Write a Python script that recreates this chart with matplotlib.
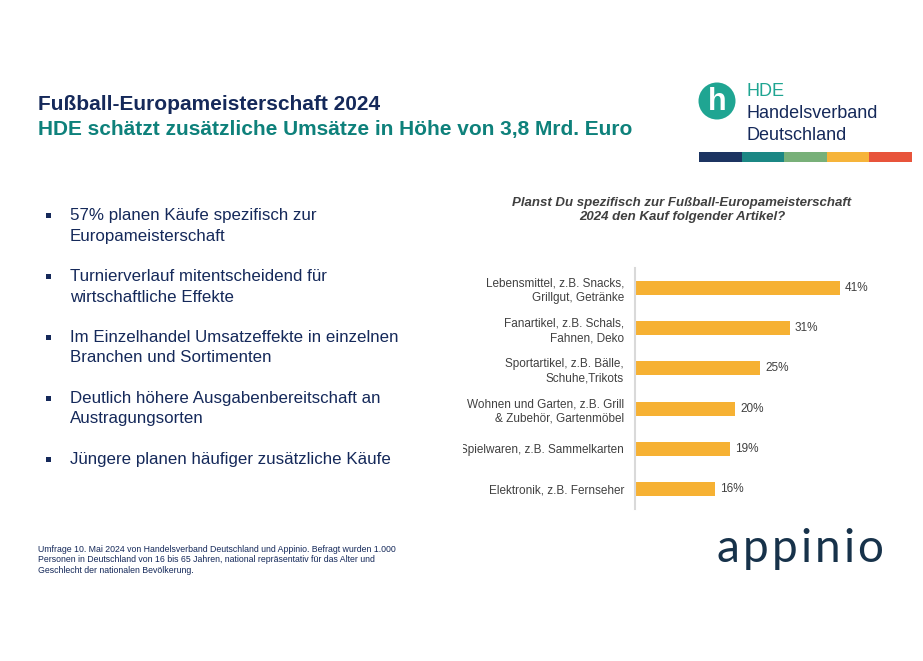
import matplotlib.pyplot as plt
from matplotlib.patches import Circle, Rectangle
from matplotlib.transforms import Bbox, TransformedBbox, IdentityTransform

plt.rcParams['font.family'] = ['Liberation Sans', 'DejaVu Sans']

# ---- Daten ----
kategorien = ['Lebensmittel, z.B. Snacks,\nGrillgut, Getränke',
              'Fanartikel, z.B. Schals,\nFahnen, Deko',
              'Sportartikel, z.B. Bälle,\nSchuhe,Trikots',
              'Wohnen und Garten, z.B. Grill\n& Zubehör, Gartenmöbel',
              'Spielwaren, z.B. Sammelkarten',
              'Elektronik, z.B. Fernseher']
werte = [41, 31, 25, 20, 19, 16]
stichpunkte = ['57% planen Käufe spezifisch zur\nEuropameisterschaft',
               'Turnierverlauf mitentscheidend für\nwirtschaftliche Effekte',
               'Im Einzelhandel Umsatzeffekte in einzelnen\nBranchen und Sortimenten',
               'Deutlich höhere Ausgabenbereitschaft an\nAustragungsorten',
               'Jüngere planen häufiger zusätzliche Käufe']
logo_farben = ['#1c3461', '#1b8784', '#78b079', '#f6b43a', '#e8543b']

W, H = 923, 661
navy = '#15295a'
teal = '#0e817b'
grau = '#404040'
balken = '#f6b133'

fig = plt.figure(figsize=(W / 100, H / 100), dpi=100)
renderer = fig.canvas.get_renderer()

# Overlay in Pixelkoordinaten fuer Texte und Logos
ov = fig.add_axes([0, 0, 1, 1])
ov.set_xlim(0, W)
ov.set_ylim(H, 0)
ov.axis('off')

ov.text(38, 104, 'Fußball-Europameisterschaft 2024', fontsize=15,
        fontweight='bold', color=navy, va='center')
ov.text(38, 130, 'HDE schätzt zusätzliche Umsätze in Höhe von 3,8 Mrd. Euro',
        fontsize=15, fontweight='bold', color=teal, va='center')

# Stichpunkte
y = 220
for s in stichpunkte:
    ov.add_patch(Rectangle((46, y - 7.5), 5, 5, color=navy, lw=0))
    for k, zeile in enumerate(s.split('\n')):
        ov.text(70, y + 20.5 * k, zeile, fontsize=12.2, color=navy,
                va='baseline')
    y += 61

ov.text(38, 560, 'Umfrage 10. Mai 2024 von Handelsverband Deutschland und Appinio. '
        'Befragt wurden 1.000\nPersonen in Deutschland von 16 bis 65 Jahren, '
        'national repräsentativ für das Alter und\nGeschlecht der nationalen Bevölkerung.',
        fontsize=6.3, color=navy, va='center', linespacing=1.2)

# HDE Logo
ov.add_patch(Circle((717, 101), 18.5, color='#1fa592', lw=0))
ov.text(717, 102, 'h', fontsize=22, fontweight='bold', color='white',
        ha='center', va='center')
ov.text(747, 91, 'HDE', fontsize=13, color='#1fa592', va='center')
ov.text(747, 113, 'Handelsverband', fontsize=13, color=navy, va='center')
ov.text(747, 135, 'Deutschland', fontsize=13, color=navy, va='center')
x0 = 699
for f in logo_farben:
    ov.add_patch(Rectangle((x0, 152), 42.6, 10, color=f, lw=0))
    x0 += 42.6

# appinio Logo (mit Sperrung)
xa = 717
for ch in 'appinio':
    t = ov.text(xa, 562, ch, fontsize=33, color='#17324a', ha='left',
                va='baseline', family='Lato')
    xa += t.get_window_extent(renderer).width + 3

# Diagrammtitel
ov.text(682, 210, 'Planst Du spezifisch zur Fußball-Europameisterschaft\n'
        '2024 den Kauf folgender Artikel?', fontsize=9.5, fontweight='bold',
        fontstyle='italic', color=grau, ha='center', va='center',
        linespacing=1.15)

# Balkendiagramm
ax = fig.add_axes([635 / W, 1 - 509 / H, 265 / W, 241 / H])
pos = range(len(werte))
ax.barh(pos, werte, height=0.35, color=balken)
ax.set_xlim(0, 53)
ax.set_ylim(len(werte) - 0.5, -0.5)
ax.set_yticks(list(pos))
ax.set_yticklabels(kategorien, fontsize=8.5, color=grau, linespacing=1.3)
ax.tick_params(axis='y', length=0, pad=8)
ax.set_xticks([])
for sp in ['top', 'right', 'bottom']:
    ax.spines[sp].set_visible(False)
ax.spines['left'].set_color('#d9d9d9')
ax.spines['left'].set_linewidth(1.5)
ax.patch.set_alpha(0)
for i, v in enumerate(werte):
    ax.text(v + 1, i, f'{v}%', fontsize=8.5, color=grau, va='center')

# linke Kante der Beschriftungen abschneiden (wie im Original)
clip = TransformedBbox(Bbox([[463, 0], [W, H]]), IdentityTransform())
for lbl in ax.get_yticklabels():
    lbl.set_clip_box(clip)
    lbl.set_clip_on(True)

fig.savefig('out.png', dpi=100)
